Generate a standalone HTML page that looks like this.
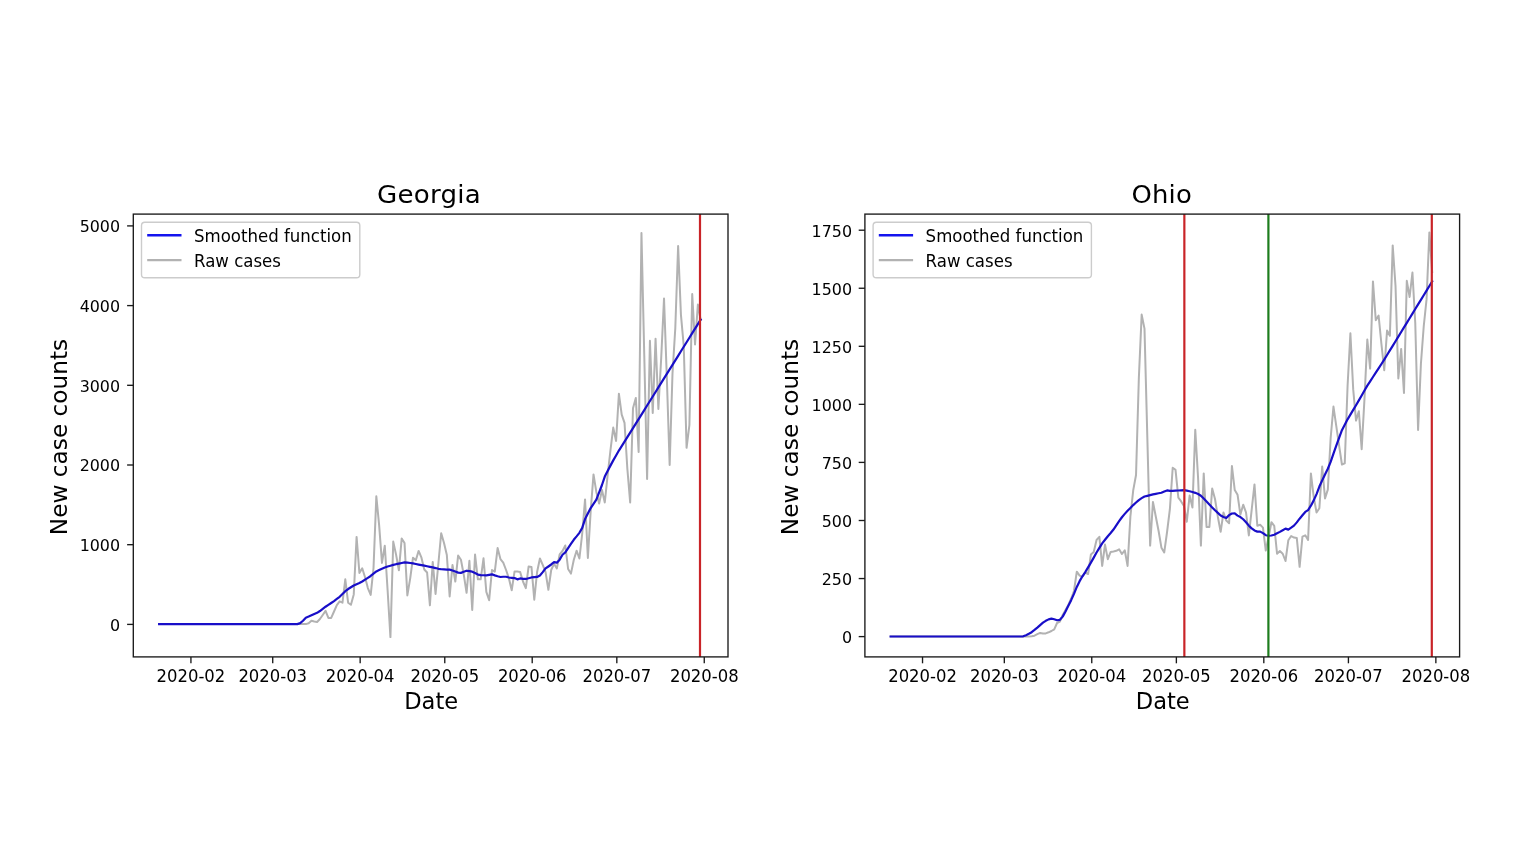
<!DOCTYPE html>
<html lang="en"><head><meta charset="utf-8"><title>Georgia and Ohio new case counts</title>
<style>
html,body{margin:0;padding:0;background:#fff;}
body{width:1536px;height:864px;overflow:hidden;font-family:"DejaVu Sans", "Liberation Sans", sans-serif;}
svg{display:block;}
svg text{white-space:pre;}
</style></head><body>
<svg width="1536" height="864" viewBox="0 0 1536 864" font-family='"DejaVu Sans", "Liberation Sans", sans-serif' fill="#000">
<g>
<clipPath id="clipa"><rect x="133.3" y="214.1" width="594.70" height="442.80"/></clipPath>
<g clip-path="url(#clipa)">
<polyline points="159.15,624.10 161.97,624.10 164.79,624.10 167.61,624.10 170.43,624.10 173.25,624.10 176.07,624.10 178.89,624.10 181.71,624.10 184.53,624.10 187.36,624.10 190.18,624.10 193.00,624.10 195.82,624.10 198.64,624.10 201.46,624.10 204.28,624.10 207.10,624.10 209.92,624.10 212.74,624.10 215.56,624.10 218.38,624.10 221.20,624.10 224.02,624.10 226.84,624.10 229.66,624.10 232.48,624.10 235.30,624.10 238.12,624.10 240.94,624.10 243.76,624.10 246.59,624.10 249.41,624.10 252.23,624.10 255.05,624.10 257.87,624.10 260.69,624.10 263.51,624.10 266.33,624.10 269.15,624.10 271.97,624.10 274.79,624.10 277.61,624.10 280.43,624.10 283.25,624.10 286.07,624.10 288.89,624.10 291.71,624.10 294.53,624.10 297.35,624.10 300.18,624.10 303.00,624.10 305.82,624.10 308.64,623.30 311.46,620.70 314.28,621.50 317.10,622.00 319.92,619.00 322.74,615.00 325.56,610.90 328.38,617.90 331.20,617.90 334.02,611.50 336.84,605.20 339.66,601.30 342.48,602.70 345.30,579.30 348.12,602.70 350.94,604.80 353.76,594.40 356.59,536.90 359.41,573.00 362.23,568.30 365.05,577.20 367.87,588.10 370.69,594.90 373.51,568.00 376.33,496.25 379.15,525.40 381.97,562.90 384.79,545.70 387.61,590.20 390.43,637.10 393.25,541.60 396.07,554.60 398.89,570.30 401.71,538.40 404.53,543.10 407.35,595.40 410.17,578.60 413.00,557.70 415.82,560.30 418.64,550.90 421.46,557.70 424.28,569.50 427.10,572.50 429.92,605.30 432.74,561.90 435.56,593.90 438.38,563.50 441.20,533.20 444.02,543.10 446.84,555.10 449.66,596.50 452.48,565.00 455.30,581.60 458.12,555.60 460.94,559.80 463.76,574.70 466.58,592.80 469.40,560.80 472.23,610.00 475.05,554.60 477.87,579.30 480.69,579.30 483.51,558.30 486.33,591.90 489.15,600.20 491.97,570.00 494.79,571.60 497.61,548.10 500.43,559.10 503.25,562.70 506.07,570.00 508.89,578.30 511.71,590.30 514.53,571.60 517.35,571.60 520.17,572.10 522.99,581.50 525.82,588.20 528.64,566.40 531.46,566.90 534.28,599.70 537.10,572.00 539.92,558.50 542.74,564.80 545.56,572.10 548.38,589.80 551.20,570.00 554.02,563.75 556.84,568.40 559.66,554.40 562.48,551.00 565.30,545.50 568.12,569.00 570.94,573.60 573.76,560.00 576.58,550.70 579.40,558.50 582.23,533.50 585.05,499.40 587.87,558.00 590.69,511.00 593.51,474.40 596.33,491.90 599.15,503.50 601.97,490.00 604.79,502.50 607.61,475.40 610.43,450.50 613.25,427.60 616.07,441.00 618.89,393.75 621.71,414.60 624.53,422.90 627.35,468.75 630.17,502.50 632.99,408.30 635.81,397.90 638.63,452.00 641.46,233.10 644.28,355.70 647.10,479.10 649.92,340.80 652.74,413.00 655.56,338.75 658.38,408.90 661.20,358.00 664.02,298.60 666.84,378.00 669.66,465.00 672.48,374.00 675.30,328.00 678.12,246.10 680.94,314.80 683.76,346.00 686.58,447.80 689.40,425.00 692.22,294.00 695.04,344.50 697.87,304.50 700.69,320.00" fill="none" stroke="#b2b2b2" stroke-width="2.0" stroke-linejoin="round" stroke-linecap="square" />
<polyline points="159.15,624.10 161.97,624.10 164.79,624.10 167.61,624.10 170.43,624.10 173.25,624.10 176.07,624.10 178.89,624.10 181.71,624.10 184.53,624.10 187.36,624.10 190.18,624.10 193.00,624.10 195.82,624.10 198.64,624.10 201.46,624.10 204.28,624.10 207.10,624.10 209.92,624.10 212.74,624.10 215.56,624.10 218.38,624.10 221.20,624.10 224.02,624.10 226.84,624.10 229.66,624.10 232.48,624.10 235.30,624.10 238.12,624.10 240.94,624.10 243.76,624.10 246.59,624.10 249.41,624.10 252.23,624.10 255.05,624.10 257.87,624.10 260.69,624.10 263.51,624.10 266.33,624.10 269.15,624.10 271.97,624.10 274.79,624.10 277.61,624.10 280.43,624.10 283.25,624.10 286.07,624.10 288.89,624.10 291.71,624.10 294.53,624.10 297.35,624.10 300.18,623.15 303.00,620.78 305.82,617.69 308.64,616.57 311.46,615.30 314.28,613.97 317.10,612.82 319.92,611.02 322.74,608.84 325.56,606.73 328.38,604.85 331.20,602.97 334.02,601.09 336.84,598.96 339.66,596.76 342.48,594.00 345.30,591.15 348.12,589.03 350.94,587.28 353.76,585.52 356.59,584.17 359.41,582.98 362.23,581.47 365.05,579.64 367.87,577.80 370.69,575.97 373.51,573.73 376.33,571.39 379.15,570.07 381.97,568.81 384.79,567.55 387.61,566.56 390.43,565.72 393.25,564.88 396.07,564.20 398.89,563.61 401.71,563.01 404.53,562.42 407.35,562.62 410.17,563.02 413.00,563.42 415.82,563.99 418.64,564.56 421.46,565.13 424.28,565.70 427.10,566.26 429.92,566.83 432.74,567.40 435.56,568.06 438.38,568.79 441.20,569.26 444.02,569.39 446.84,569.53 449.66,569.66 452.48,570.47 455.30,571.53 458.12,572.64 460.94,572.86 463.76,571.78 466.58,570.71 469.40,571.20 472.23,571.70 475.05,573.02 477.87,574.56 480.69,575.05 483.51,575.24 486.33,575.31 489.15,574.81 491.97,574.31 494.79,575.38 497.61,576.24 500.43,577.00 503.25,576.75 506.07,576.77 508.89,577.47 511.71,577.80 514.53,578.08 517.35,579.33 520.17,578.45 522.99,578.81 525.82,578.94 528.64,578.20 531.46,577.47 534.28,577.21 537.10,576.94 539.92,575.45 542.74,572.14 545.56,568.45 548.38,566.48 551.20,564.48 554.02,562.20 556.84,562.66 559.66,559.65 562.48,554.75 565.30,552.38 568.12,548.17 570.94,543.97 573.76,539.78 576.58,536.40 579.40,532.82 582.23,527.91 585.05,519.11 587.87,513.44 590.69,508.03 593.51,503.84 596.33,499.66 599.15,492.47 601.97,484.99 604.79,476.53 607.61,471.07 610.43,465.63 613.25,460.38 616.07,455.42 618.89,450.57 621.71,446.12 624.53,441.68 627.35,437.19 630.17,432.67 632.99,428.15 635.81,423.62 638.63,419.10 641.46,414.58 644.28,410.06 647.10,405.54 649.92,401.02 652.74,396.49 655.56,391.97 658.38,387.45 661.20,382.93 664.02,378.41 666.84,373.88 669.66,369.36 672.48,364.84 675.30,360.32 678.12,355.80 680.94,351.28 683.76,346.75 686.58,342.23 689.40,337.71 692.22,333.19 695.04,328.67 697.87,324.14 700.69,319.62" fill="none" stroke="#180ec8" stroke-width="2.2" stroke-linejoin="round" stroke-linecap="square" />
<line x1="700.00" x2="700.00" y1="214.1" y2="656.9" stroke="#c92428" stroke-width="2.2"/>
</g>
<rect x="133.3" y="214.1" width="594.70" height="442.80" fill="none" stroke="#1a1a1a" stroke-width="1.35"/>
<line x1="190.93" x2="190.93" y1="656.9" y2="663.3" stroke="#1a1a1a" stroke-width="1.35"/>
<text transform="translate(190.93,682.10) scale(1,1.025)" text-anchor="middle" font-size="16.45">2020-02</text>
<line x1="272.72" x2="272.72" y1="656.9" y2="663.3" stroke="#1a1a1a" stroke-width="1.35"/>
<text transform="translate(272.72,682.10) scale(1,1.025)" text-anchor="middle" font-size="16.45">2020-03</text>
<line x1="360.16" x2="360.16" y1="656.9" y2="663.3" stroke="#1a1a1a" stroke-width="1.35"/>
<text transform="translate(360.16,682.10) scale(1,1.025)" text-anchor="middle" font-size="16.45">2020-04</text>
<line x1="444.77" x2="444.77" y1="656.9" y2="663.3" stroke="#1a1a1a" stroke-width="1.35"/>
<text transform="translate(444.77,682.10) scale(1,1.025)" text-anchor="middle" font-size="16.45">2020-05</text>
<line x1="532.21" x2="532.21" y1="656.9" y2="663.3" stroke="#1a1a1a" stroke-width="1.35"/>
<text transform="translate(532.21,682.10) scale(1,1.025)" text-anchor="middle" font-size="16.45">2020-06</text>
<line x1="616.82" x2="616.82" y1="656.9" y2="663.3" stroke="#1a1a1a" stroke-width="1.35"/>
<text transform="translate(616.82,682.10) scale(1,1.025)" text-anchor="middle" font-size="16.45">2020-07</text>
<line x1="704.26" x2="704.26" y1="656.9" y2="663.3" stroke="#1a1a1a" stroke-width="1.35"/>
<text transform="translate(704.26,682.10) scale(1,1.025)" text-anchor="middle" font-size="16.45">2020-08</text>
<line x1="127.10000000000001" x2="133.3" y1="225.9" y2="225.9" stroke="#1a1a1a" stroke-width="1.35"/>
<text transform="translate(120.10,232.20) scale(1,1.0)" text-anchor="end" font-size="15.9">5000</text>
<line x1="127.10000000000001" x2="133.3" y1="305.6" y2="305.6" stroke="#1a1a1a" stroke-width="1.35"/>
<text transform="translate(120.10,311.90) scale(1,1.0)" text-anchor="end" font-size="15.9">4000</text>
<line x1="127.10000000000001" x2="133.3" y1="385.3" y2="385.3" stroke="#1a1a1a" stroke-width="1.35"/>
<text transform="translate(120.10,391.60) scale(1,1.0)" text-anchor="end" font-size="15.9">3000</text>
<line x1="127.10000000000001" x2="133.3" y1="465.0" y2="465.0" stroke="#1a1a1a" stroke-width="1.35"/>
<text transform="translate(120.10,471.30) scale(1,1.0)" text-anchor="end" font-size="15.9">2000</text>
<line x1="127.10000000000001" x2="133.3" y1="544.7" y2="544.7" stroke="#1a1a1a" stroke-width="1.35"/>
<text transform="translate(120.10,551.00) scale(1,1.0)" text-anchor="end" font-size="15.9">1000</text>
<line x1="127.10000000000001" x2="133.3" y1="624.4" y2="624.4" stroke="#1a1a1a" stroke-width="1.35"/>
<text transform="translate(120.10,630.70) scale(1,1.0)" text-anchor="end" font-size="15.9">0</text>
<text transform="translate(429.05,202.60) scale(1,0.98)" text-anchor="middle" font-size="26.1" letter-spacing="0.25">Georgia</text>
<text transform="translate(431.15,709.40) scale(1,1.02)" text-anchor="middle" font-size="22.6">Date</text>
<text transform="translate(66.70,437.00) scale(1,1.037) rotate(-90)" text-anchor="middle" font-size="22.4">New case counts</text>
<rect x="141.5" y="222.3" width="218.3" height="55.5" rx="3.3" fill="#fff" fill-opacity="0.8" stroke="#ccc" stroke-width="1.4"/>
<line x1="147.2" x2="181.5" y1="235.2" y2="235.2" stroke="#1414ee" stroke-width="2.4"/>
<line x1="147.2" x2="181.5" y1="260.2" y2="260.2" stroke="#b2b2b2" stroke-width="2.2"/>
<text transform="translate(194.00,241.50) scale(1,1.02)" text-anchor="start" font-size="16.6">Smoothed function</text>
<text transform="translate(194.00,266.50) scale(1,1.02)" text-anchor="start" font-size="16.6">Raw cases</text>
</g>
<g>
<clipPath id="clipb"><rect x="864.9" y="214.1" width="594.70" height="442.80"/></clipPath>
<g clip-path="url(#clipb)">
<polyline points="890.65,636.50 893.47,636.50 896.29,636.50 899.11,636.50 901.93,636.50 904.75,636.50 907.57,636.50 910.39,636.50 913.21,636.50 916.03,636.50 918.86,636.50 921.68,636.50 924.50,636.50 927.32,636.50 930.14,636.50 932.96,636.50 935.78,636.50 938.60,636.50 941.42,636.50 944.24,636.50 947.06,636.50 949.88,636.50 952.70,636.50 955.52,636.50 958.34,636.50 961.16,636.50 963.98,636.50 966.80,636.50 969.62,636.50 972.44,636.50 975.26,636.50 978.09,636.50 980.91,636.50 983.73,636.50 986.55,636.50 989.37,636.50 992.19,636.50 995.01,636.50 997.83,636.50 1000.65,636.50 1003.47,636.50 1006.29,636.50 1009.11,636.50 1011.93,636.50 1014.75,636.50 1017.57,636.50 1020.39,636.50 1023.21,636.50 1026.03,636.50 1028.85,636.50 1031.67,636.20 1034.50,635.70 1037.32,634.20 1040.14,632.90 1042.96,633.50 1045.78,633.40 1048.60,632.30 1051.42,631.00 1054.24,629.30 1057.06,623.00 1059.88,621.50 1062.70,615.00 1065.52,610.00 1068.34,605.00 1071.16,598.50 1073.98,591.00 1076.80,571.70 1079.62,575.60 1082.44,576.70 1085.26,572.50 1088.09,574.00 1090.91,554.50 1093.73,551.90 1096.55,539.90 1099.37,536.80 1102.19,565.90 1105.01,544.60 1107.83,559.20 1110.65,551.90 1113.47,551.40 1116.29,550.80 1119.11,549.30 1121.93,554.00 1124.75,550.30 1127.57,565.90 1130.39,516.50 1133.21,490.40 1136.03,475.00 1138.85,378.00 1141.67,314.60 1144.49,328.60 1147.32,437.10 1150.14,545.60 1152.96,501.90 1155.78,516.50 1158.60,531.00 1161.42,547.70 1164.24,552.40 1167.06,532.00 1169.88,509.20 1172.70,467.70 1175.52,469.80 1178.34,497.70 1181.16,501.40 1183.98,506.00 1186.80,521.70 1189.62,495.60 1192.44,507.60 1195.26,429.70 1198.08,478.00 1200.90,545.60 1203.73,473.40 1206.55,527.00 1209.37,527.00 1212.19,488.50 1215.01,499.00 1217.83,516.70 1220.65,531.80 1223.47,512.50 1226.29,520.60 1229.11,523.20 1231.93,466.00 1234.75,490.10 1237.57,494.80 1240.39,514.60 1243.21,504.70 1246.03,512.50 1248.85,535.40 1251.67,509.90 1254.49,484.40 1257.32,525.80 1260.14,524.80 1262.96,527.60 1265.78,550.60 1268.60,537.00 1271.42,522.20 1274.24,525.80 1277.06,553.75 1279.88,551.10 1282.70,553.75 1285.52,561.00 1288.34,540.20 1291.16,536.00 1293.98,537.60 1296.80,538.10 1299.62,566.80 1302.44,536.60 1305.26,535.30 1308.08,540.00 1310.90,473.40 1313.72,497.00 1316.55,512.50 1319.37,508.30 1322.19,466.60 1325.01,498.40 1327.83,489.60 1330.65,438.00 1333.47,406.60 1336.29,426.10 1339.11,445.60 1341.93,464.50 1344.75,463.40 1347.57,386.00 1350.39,333.20 1353.21,389.40 1356.03,420.60 1358.85,411.25 1361.67,449.30 1364.49,398.60 1367.31,339.50 1370.13,368.60 1372.96,281.40 1375.78,320.20 1378.60,315.50 1381.42,344.00 1384.24,370.20 1387.06,330.60 1389.88,335.80 1392.70,245.40 1395.52,286.00 1398.34,378.50 1401.16,348.90 1403.98,393.00 1406.80,280.80 1409.62,297.00 1412.44,272.50 1415.26,323.00 1418.08,430.00 1420.90,364.00 1423.72,326.50 1426.55,299.40 1429.37,232.40 1432.19,272.00" fill="none" stroke="#b2b2b2" stroke-width="2.0" stroke-linejoin="round" stroke-linecap="square" />
<polyline points="890.65,636.50 893.47,636.50 896.29,636.50 899.11,636.50 901.93,636.50 904.75,636.50 907.57,636.50 910.39,636.50 913.21,636.50 916.03,636.50 918.86,636.50 921.68,636.50 924.50,636.50 927.32,636.50 930.14,636.50 932.96,636.50 935.78,636.50 938.60,636.50 941.42,636.50 944.24,636.50 947.06,636.50 949.88,636.50 952.70,636.50 955.52,636.50 958.34,636.50 961.16,636.50 963.98,636.50 966.80,636.50 969.62,636.50 972.44,636.50 975.26,636.50 978.09,636.50 980.91,636.50 983.73,636.50 986.55,636.50 989.37,636.50 992.19,636.50 995.01,636.50 997.83,636.50 1000.65,636.50 1003.47,636.50 1006.29,636.50 1009.11,636.50 1011.93,636.50 1014.75,636.50 1017.57,636.50 1020.39,636.50 1023.21,636.34 1026.03,635.15 1028.85,633.82 1031.67,632.20 1034.50,629.95 1037.32,627.58 1040.14,625.09 1042.96,622.69 1045.78,620.79 1048.60,619.38 1051.42,618.67 1054.24,619.26 1057.06,620.27 1059.88,619.83 1062.70,616.64 1065.52,611.49 1068.34,605.72 1071.16,600.14 1073.98,593.83 1076.80,586.89 1079.62,581.15 1082.44,576.30 1085.26,572.06 1088.09,567.33 1090.91,562.59 1093.73,557.61 1096.55,552.54 1099.37,547.91 1102.19,543.39 1105.01,539.75 1107.83,536.21 1110.65,533.06 1113.47,529.55 1116.29,525.32 1119.11,521.22 1121.93,517.26 1124.75,513.87 1127.57,510.78 1130.39,507.91 1133.21,505.09 1136.03,502.53 1138.85,500.06 1141.67,498.12 1144.49,496.52 1147.32,495.82 1150.14,495.12 1152.96,494.41 1155.78,493.80 1158.60,493.26 1161.42,492.72 1164.24,491.49 1167.06,490.46 1169.88,490.90 1172.70,490.79 1175.52,490.67 1178.34,490.51 1181.16,490.33 1183.98,490.13 1186.80,490.63 1189.62,491.26 1192.44,492.05 1195.26,492.85 1198.08,493.98 1200.90,495.70 1203.73,498.53 1206.55,501.48 1209.37,504.57 1212.19,507.49 1215.01,510.31 1217.83,512.91 1220.65,515.46 1223.47,516.93 1226.29,517.92 1229.11,515.16 1231.93,513.49 1234.75,513.46 1237.57,515.64 1240.39,517.05 1243.21,519.25 1246.03,522.19 1248.85,525.68 1251.67,528.36 1254.49,530.48 1257.32,531.61 1260.14,531.62 1262.96,533.14 1265.78,535.22 1268.60,535.75 1271.42,535.52 1274.24,534.74 1277.06,533.35 1279.88,531.89 1282.70,530.21 1285.52,528.64 1288.34,529.64 1291.16,527.71 1293.98,525.61 1296.80,522.38 1299.62,518.69 1302.44,515.29 1305.26,511.96 1308.08,510.05 1310.90,505.68 1313.72,500.37 1316.55,494.09 1319.37,486.57 1322.19,480.40 1325.01,474.49 1327.83,468.75 1330.65,461.89 1333.47,453.64 1336.29,445.63 1339.11,437.91 1341.93,430.19 1344.75,424.70 1347.57,419.32 1350.39,414.62 1353.21,409.93 1356.03,405.24 1358.85,400.39 1361.67,395.47 1364.49,390.55 1367.31,385.67 1370.13,381.34 1372.96,377.01 1375.78,372.67 1378.60,368.34 1381.42,364.01 1384.24,359.62 1387.06,355.02 1389.88,350.42 1392.70,345.82 1395.52,341.22 1398.34,336.62 1401.16,332.02 1403.98,327.42 1406.80,322.82 1409.62,318.22 1412.44,313.62 1415.26,309.02 1418.08,304.42 1420.90,299.82 1423.72,295.22 1426.55,290.62 1429.37,286.02 1432.19,281.42" fill="none" stroke="#180ec8" stroke-width="2.2" stroke-linejoin="round" stroke-linecap="square" />
<line x1="1184.35" x2="1184.35" y1="214.1" y2="656.9" stroke="#c92428" stroke-width="2.2"/>
<line x1="1268.40" x2="1268.40" y1="214.1" y2="656.9" stroke="#1e7d1e" stroke-width="2.2"/>
<line x1="1431.80" x2="1431.80" y1="214.1" y2="656.9" stroke="#c92428" stroke-width="2.2"/>
</g>
<rect x="864.9" y="214.1" width="594.70" height="442.80" fill="none" stroke="#1a1a1a" stroke-width="1.35"/>
<line x1="922.53" x2="922.53" y1="656.9" y2="663.3" stroke="#1a1a1a" stroke-width="1.35"/>
<text transform="translate(922.53,682.10) scale(1,1.025)" text-anchor="middle" font-size="16.45">2020-02</text>
<line x1="1004.32" x2="1004.32" y1="656.9" y2="663.3" stroke="#1a1a1a" stroke-width="1.35"/>
<text transform="translate(1004.32,682.10) scale(1,1.025)" text-anchor="middle" font-size="16.45">2020-03</text>
<line x1="1091.76" x2="1091.76" y1="656.9" y2="663.3" stroke="#1a1a1a" stroke-width="1.35"/>
<text transform="translate(1091.76,682.10) scale(1,1.025)" text-anchor="middle" font-size="16.45">2020-04</text>
<line x1="1176.37" x2="1176.37" y1="656.9" y2="663.3" stroke="#1a1a1a" stroke-width="1.35"/>
<text transform="translate(1176.37,682.10) scale(1,1.025)" text-anchor="middle" font-size="16.45">2020-05</text>
<line x1="1263.81" x2="1263.81" y1="656.9" y2="663.3" stroke="#1a1a1a" stroke-width="1.35"/>
<text transform="translate(1263.81,682.10) scale(1,1.025)" text-anchor="middle" font-size="16.45">2020-06</text>
<line x1="1348.42" x2="1348.42" y1="656.9" y2="663.3" stroke="#1a1a1a" stroke-width="1.35"/>
<text transform="translate(1348.42,682.10) scale(1,1.025)" text-anchor="middle" font-size="16.45">2020-07</text>
<line x1="1435.86" x2="1435.86" y1="656.9" y2="663.3" stroke="#1a1a1a" stroke-width="1.35"/>
<text transform="translate(1435.86,682.10) scale(1,1.025)" text-anchor="middle" font-size="16.45">2020-08</text>
<line x1="858.6999999999999" x2="864.9" y1="230.2" y2="230.2" stroke="#1a1a1a" stroke-width="1.35"/>
<text transform="translate(852.00,236.50) scale(1,1.0)" text-anchor="end" font-size="15.9">1750</text>
<line x1="858.6999999999999" x2="864.9" y1="288.25" y2="288.25" stroke="#1a1a1a" stroke-width="1.35"/>
<text transform="translate(852.00,294.55) scale(1,1.0)" text-anchor="end" font-size="15.9">1500</text>
<line x1="858.6999999999999" x2="864.9" y1="346.3" y2="346.3" stroke="#1a1a1a" stroke-width="1.35"/>
<text transform="translate(852.00,352.60) scale(1,1.0)" text-anchor="end" font-size="15.9">1250</text>
<line x1="858.6999999999999" x2="864.9" y1="404.35" y2="404.35" stroke="#1a1a1a" stroke-width="1.35"/>
<text transform="translate(852.00,410.65) scale(1,1.0)" text-anchor="end" font-size="15.9">1000</text>
<line x1="858.6999999999999" x2="864.9" y1="462.4" y2="462.4" stroke="#1a1a1a" stroke-width="1.35"/>
<text transform="translate(852.00,468.70) scale(1,1.0)" text-anchor="end" font-size="15.9">750</text>
<line x1="858.6999999999999" x2="864.9" y1="520.5" y2="520.5" stroke="#1a1a1a" stroke-width="1.35"/>
<text transform="translate(852.00,526.80) scale(1,1.0)" text-anchor="end" font-size="15.9">500</text>
<line x1="858.6999999999999" x2="864.9" y1="578.55" y2="578.55" stroke="#1a1a1a" stroke-width="1.35"/>
<text transform="translate(852.00,584.85) scale(1,1.0)" text-anchor="end" font-size="15.9">250</text>
<line x1="858.6999999999999" x2="864.9" y1="636.6" y2="636.6" stroke="#1a1a1a" stroke-width="1.35"/>
<text transform="translate(852.00,642.90) scale(1,1.0)" text-anchor="end" font-size="15.9">0</text>
<text transform="translate(1161.75,202.70) scale(1,0.97)" text-anchor="middle" font-size="25.9" letter-spacing="0.2">Ohio</text>
<text transform="translate(1162.75,709.40) scale(1,1.02)" text-anchor="middle" font-size="22.6">Date</text>
<text transform="translate(798.30,437.00) scale(1,1.037) rotate(-90)" text-anchor="middle" font-size="22.4">New case counts</text>
<rect x="873.1" y="222.3" width="218.3" height="55.5" rx="3.3" fill="#fff" fill-opacity="0.8" stroke="#ccc" stroke-width="1.4"/>
<line x1="878.8000000000001" x2="913.1" y1="235.2" y2="235.2" stroke="#1414ee" stroke-width="2.4"/>
<line x1="878.8000000000001" x2="913.1" y1="260.2" y2="260.2" stroke="#b2b2b2" stroke-width="2.2"/>
<text transform="translate(925.60,241.50) scale(1,1.02)" text-anchor="start" font-size="16.6">Smoothed function</text>
<text transform="translate(925.60,266.50) scale(1,1.02)" text-anchor="start" font-size="16.6">Raw cases</text>
</g>
</svg>
</body></html>
